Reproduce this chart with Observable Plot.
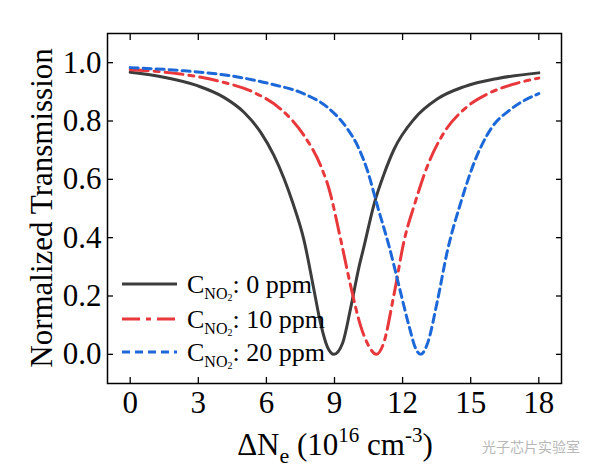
<!DOCTYPE html>
<html><head><meta charset="utf-8">
<script src="https://cdn.jsdelivr.net/npm/d3@7"></script>
<script src="https://cdn.jsdelivr.net/npm/@observablehq/plot@0.6"></script>
<style>body{margin:0;background:#fff} svg{display:block}</style>
</head><body><div id="chart"></div>
<script>
const seriesNames = ["0 ppm", "10 ppm", "20 ppm"];
const seriesColors = ["#3c3c3c", "#e8383b", "#1c68d8"];
const seriesDash = [null, "18,6,5,6", "8,5"];

const blackX = [0, 1.48, 2.96, 4.13, 5.01, 5.75, 6.33, 6.78, 7.15, 7.66, 8.10, 8.39, 8.69, 8.98, 9.35, 9.72, 10.08, 10.30, 10.75, 11.19, 11.63, 12.51, 13.54, 14.72, 16.19, 18.0];
const blackY = [0.967, 0.95, 0.921, 0.881, 0.83, 0.761, 0.682, 0.602, 0.522, 0.39, 0.219, 0.105, 0.025, 0.0, 0.037, 0.162, 0.30, 0.37, 0.517, 0.62, 0.704, 0.807, 0.876, 0.918, 0.946, 0.965];

const redX = [0, 2.22, 3.98, 5.45, 6.63, 7.66, 8.39, 8.76, 9.28, 9.72, 10.16, 10.5, 10.84, 11.15, 11.63, 12.07, 12.51, 13.10, 13.83, 14.72, 15.75, 16.92, 18.0];
const redY = [0.976, 0.961, 0.935, 0.898, 0.841, 0.75, 0.647, 0.567, 0.391, 0.232, 0.095, 0.03, 0.0, 0.035, 0.209, 0.391, 0.51, 0.647, 0.761, 0.841, 0.893, 0.927, 0.947];

const blueX = [0, 2.22, 4.42, 6.19, 7.66, 8.69, 9.57, 10.01, 10.45, 10.90, 11.41, 11.85, 12.29, 12.55, 12.8, 13.1, 13.54, 13.98, 14.57, 15.16, 15.89, 16.78, 18.0];
const blueY = [0.983, 0.973, 0.955, 0.927, 0.893, 0.847, 0.773, 0.716, 0.63, 0.506, 0.369, 0.232, 0.095, 0.025, 0.0, 0.038, 0.186, 0.357, 0.522, 0.659, 0.773, 0.841, 0.894];

const xTicks = [0, 3, 6, 9, 12, 15, 18];
const yTicks = [0, 0.2, 0.4, 0.6, 0.8, 1.0];

const allX = [blackX, redX, blueX];
const allY = [blackY, redY, blueY];
const tables = allX.map((xs, i) => xs.map((x, j) => ({x, y: allY[i][j], s: seriesNames[i]})));

const font = "'Liberation Serif', 'Times New Roman', serif";

const svg = Plot.plot({
  width: 598, height: 474,
  marginLeft: 107, marginRight: 37, marginTop: 33, marginBottom: 91,
  x: {domain: [-1, 19]},
  y: {domain: [-0.1, 1.1]},
  style: {fontFamily: font, fontSize: "31px", color: "#000", background: "#fff"},
  marks: [
    ...tables.map((t, i) => Plot.line(t, {x: "x", y: "y", stroke: seriesColors[i], strokeWidth: 3, strokeDasharray: seriesDash[i], curve: "monotone-x"})),
    Plot.frame({stroke: "#000", strokeWidth: 1.5}),
    Plot.axisX({ticks: xTicks, anchor: "bottom", tickSize: 6, dy: -6, fill: "none", label: null, strokeWidth: 1.3}),
    Plot.axisX({ticks: xTicks, anchor: "top", tickSize: 6, dy: 6, fill: "none", label: null, strokeWidth: 1.3}),
    Plot.axisX({ticks: xTicks, anchor: "bottom", tickSize: 0, tickPadding: 7, label: null, fontSize: 31}),
    Plot.axisY({ticks: yTicks, anchor: "left", tickSize: 6, dx: 6, fill: "none", label: null, strokeWidth: 1.3}),
    Plot.axisY({ticks: yTicks, anchor: "right", tickSize: 6, dx: -6, fill: "none", label: null, strokeWidth: 1.3}),
    Plot.axisY({ticks: yTicks, anchor: "left", tickSize: 0, tickPadding: 6, label: null, fontSize: 31, tickFormat: d3.format(".1f")})
  ]
});

const root = d3.select(svg);

// Y axis title
root.append("text")
  .attr("transform", "translate(52,208) rotate(-90)")
  .attr("text-anchor", "middle")
  .attr("font-family", font).attr("font-size", 31).attr("fill", "#000")
  .text("Normalized Transmission");

// X axis title
const xt = root.append("text")
  .attr("x", 335).attr("y", 455)
  .attr("text-anchor", "middle")
  .attr("font-family", font).attr("font-size", 31).attr("fill", "#000");
xt.append("tspan").text("\u0394N");
xt.append("tspan").attr("font-size", 22).attr("dy", 8).text("e");
xt.append("tspan").attr("dy", -8).text(" (10");
xt.append("tspan").attr("font-size", 21).attr("dy", -13).text("16");
xt.append("tspan").attr("dy", 13).text(" cm");
xt.append("tspan").attr("font-size", 21).attr("dy", -13).text("-3");
xt.append("tspan").attr("dy", 13).text(")");

// Legend
const legY = [284, 319, 352];
seriesNames.forEach((name, i) => {
  const g = root.append("g");
  g.append("line").attr("x1", 122).attr("x2", 177).attr("y1", legY[i]).attr("y2", legY[i])
    .attr("stroke", seriesColors[i]).attr("stroke-width", 3)
    .attr("stroke-dasharray", seriesDash[i]);
  const t = g.append("text").attr("x", 187).attr("y", legY[i] + 9)
    .attr("text-anchor", "start")
    .attr("font-family", font).attr("font-size", 26).attr("fill", "#000");
  t.append("tspan").text("C");
  t.append("tspan").attr("font-size", 16).attr("dy", 6).text("NO");
  t.append("tspan").attr("font-size", 10).attr("dy", 2).text("2");
  t.append("tspan").attr("dy", -8).text(": " + name);
});

// Watermark
root.append("text").attr("x", 580).attr("y", 452).attr("text-anchor", "end")
  .attr("font-family", "'Noto Sans CJK SC', sans-serif").attr("font-size", 14)
  .attr("fill", "#b8b8b8").text("光子芯片实验室");

document.getElementById("chart").appendChild(svg);
</script>
</body></html>
